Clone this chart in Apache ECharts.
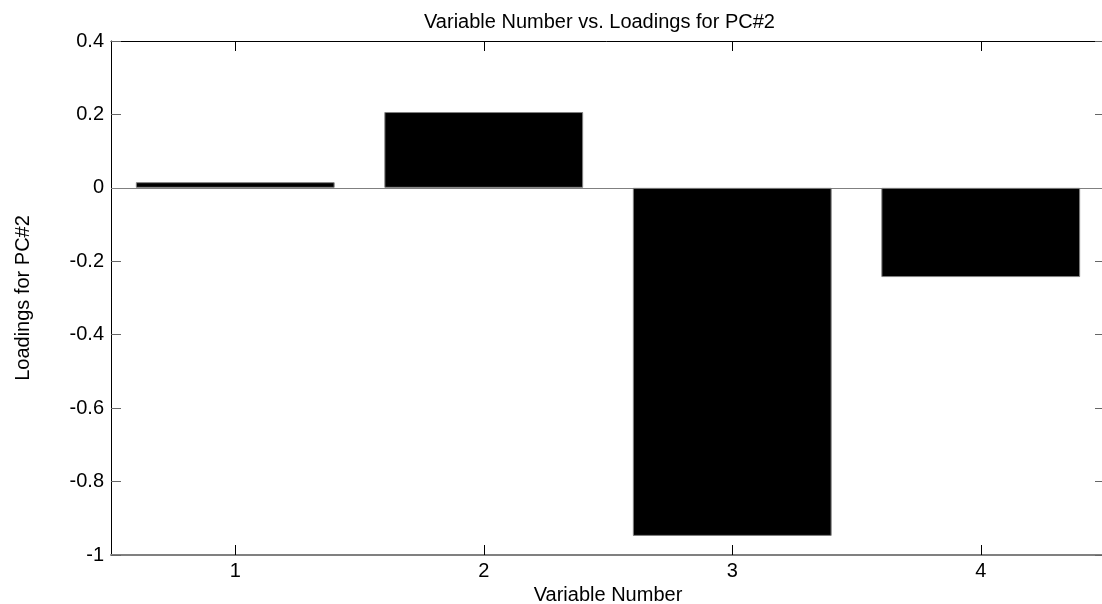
<!DOCTYPE html>
<html>
<head>
<meta charset="utf-8">
<script src="https://cdn.jsdelivr.net/npm/echarts@6/dist/echarts.min.js"></script>
<style>
  html, body { margin: 0; padding: 0; background: #fff; }
  #chart { width: 1102px; height: 604px; }
</style>
</head>
<body>
<div id="chart"></div>
<script>
// Principal component loadings, second component
const variables = ['1', '2', '3', '4'];
const loadings = [0.0155, 0.2065, -0.948, -0.243];
const yTicks = { min: -1, max: 0.4, step: 0.2 };

const font = 'Arial, "Liberation Sans", Helvetica, sans-serif';
const chart = echarts.init(document.getElementById('chart'), null, { renderer: 'canvas' });

chart.setOption({
  backgroundColor: '#ffffff',
  animation: false,
  title: {
    text: 'Variable Number vs. Loadings for PC#2',
    left: 419,
    top: 7,
    textStyle: { fontFamily: font, fontSize: 20, fontWeight: 'normal', color: '#000' }
  },
  grid: {
    left: 111, top: 41, width: 994, height: 514,
    containLabel: false,
    outerBoundsMode: 'none'
  },
  xAxis: [
    {
      type: 'category',
      data: variables,
      position: 'bottom',
      boundaryGap: true,
      name: 'Variable Number',
      nameLocation: 'middle',
      nameGap: 22,
      nameTextStyle: { fontFamily: font, fontSize: 20, color: '#000' },
      axisLine: { show: true, onZero: false, lineStyle: { color: '#808080', width: 2 } },
      axisTick: { show: true, inside: true, alignWithLabel: true, length: 10, lineStyle: { color: '#000' } },
      axisLabel: { fontFamily: font, fontSize: 20, color: '#000', margin: 6 },
      splitLine: { show: false }
    },
    {
      type: 'category',
      data: variables,
      position: 'top',
      boundaryGap: true,
      axisLine: { show: true, onZero: false, lineStyle: { color: '#000', width: 1 } },
      axisTick: { show: true, inside: true, alignWithLabel: true, length: 10, lineStyle: { color: '#000' } },
      axisLabel: { show: false },
      splitLine: { show: false }
    }
  ],
  yAxis: [
    {
      type: 'value',
      position: 'left',
      min: yTicks.min,
      max: yTicks.max,
      interval: yTicks.step,
      name: 'Loadings for PC#2',
      nameLocation: 'middle',
      nameGap: 78,
      nameRotate: 90,
      nameTextStyle: { fontFamily: font, fontSize: 20, color: '#000' },
      axisLine: { show: true, onZero: false, lineStyle: { color: '#000', width: 1 } },
      axisTick: { show: true, inside: true, length: 10, lineStyle: { color: '#666' } },
      axisLabel: { fontFamily: font, fontSize: 20, color: '#000', margin: 7 },
      splitLine: { show: false }
    },
    {
      type: 'value',
      position: 'right',
      min: yTicks.min,
      max: yTicks.max,
      interval: yTicks.step,
      axisLine: { show: true, onZero: false, lineStyle: { color: '#000', width: 1 } },
      axisTick: { show: true, inside: true, length: 10, lineStyle: { color: '#666' } },
      axisLabel: { show: false },
      splitLine: { show: false }
    }
  ],
  series: [
    {
      type: 'bar',
      data: loadings,
      xAxisIndex: 0,
      yAxisIndex: 0,
      barWidth: '80%',
      itemStyle: { color: '#000', borderColor: '#808080', borderWidth: 1 },
      markLine: {
        silent: true,
        symbol: 'none',
        label: { show: false },
        lineStyle: { color: '#808080', width: 1, type: 'solid' },
        data: [{ yAxis: 0 }],
        z: 1
      }
    }
  ]
});
</script>
</body>
</html>
